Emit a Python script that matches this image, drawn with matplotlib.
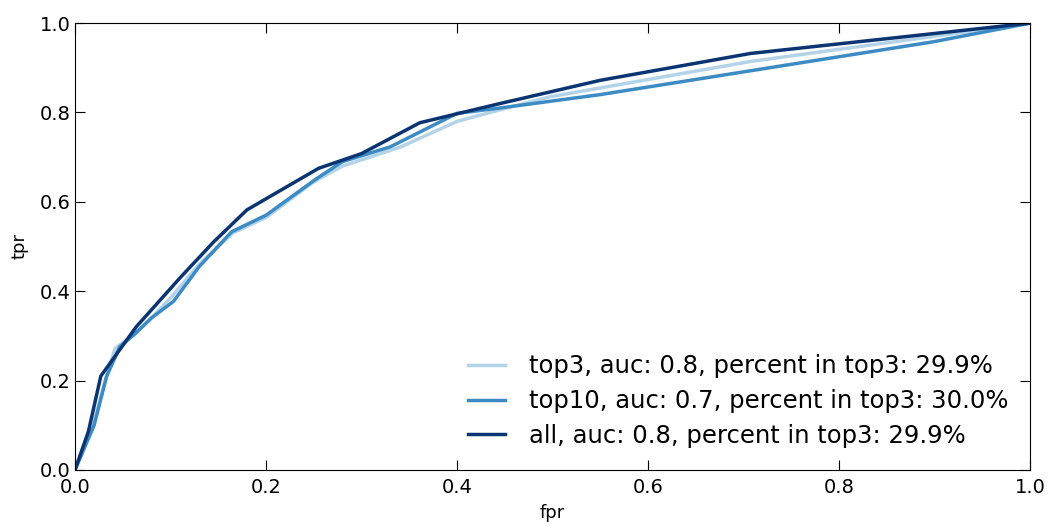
import matplotlib
matplotlib.use("Agg")
import matplotlib.pyplot as plt

labels = ["top3, auc: 0.8, percent in top3: 29.9%",
          "top10, auc: 0.7, percent in top3: 30.0%",
          "all, auc: 0.8, percent in top3: 29.9%"]
colors = ["#b3d3e8", "#3d8bc4", "#0b3572"]

fpr_top3 = [0.0, 0.02, 0.033, 0.042, 0.063, 0.08, 0.10, 0.13, 0.165, 0.20, 0.25, 0.28, 0.34, 0.40, 0.445, 0.497, 0.707, 1.0]
tpr_top3 = [0.0, 0.11, 0.21, 0.272, 0.305, 0.34, 0.385, 0.46, 0.53, 0.565, 0.645, 0.68, 0.722, 0.78, 0.806, 0.835, 0.914, 1.0]

fpr_top10 = [0.0, 0.02, 0.033, 0.047, 0.063, 0.08, 0.103, 0.13, 0.164, 0.20, 0.253, 0.28, 0.33, 0.40, 0.445, 0.55, 0.898, 1.0]
tpr_top10 = [0.0, 0.10, 0.209, 0.276, 0.305, 0.34, 0.377, 0.455, 0.533, 0.57, 0.652, 0.69, 0.723, 0.798, 0.81, 0.84, 0.958, 1.0]

fpr_all = [0.0, 0.014, 0.027, 0.064, 0.11, 0.145, 0.18, 0.255, 0.30, 0.361, 0.40, 0.445, 0.55, 0.707, 1.0]
tpr_all = [0.0, 0.086, 0.21, 0.32, 0.43, 0.51, 0.582, 0.675, 0.708, 0.777, 0.797, 0.82, 0.872, 0.932, 1.0]

fig = plt.figure(figsize=(10.48, 5.25), dpi=100)
ax = fig.add_axes([0.0716, 0.105, 0.9114, 0.851])
for fx, ty, c, lab in zip([fpr_top3, fpr_top10, fpr_all], [tpr_top3, tpr_top10, tpr_all], colors, labels):
    ax.plot(fx, ty, color=c, lw=2.5, label=lab)
ax.set_xlim(0, 1)
ax.set_ylim(0, 1)
ax.set_xticks([0, 0.2, 0.4, 0.6, 0.8, 1.0])
ax.set_yticks([0, 0.2, 0.4, 0.6, 0.8, 1.0])
ax.tick_params(direction="in", top=True, right=True, labelsize=14, length=7)
ax.tick_params(axis="x", pad=6)
ax.tick_params(axis="y", pad=3)
ax.set_xlabel("fpr", fontsize=13, labelpad=5)
ax.set_ylabel("tpr", fontsize=13, labelpad=8)
ax.legend(loc="lower right", frameon=False, fontsize=17.5, handlelength=1.5,
          handletextpad=1.0, borderaxespad=0.5, labelspacing=0.45)
fig.savefig("out.png", dpi=100)
